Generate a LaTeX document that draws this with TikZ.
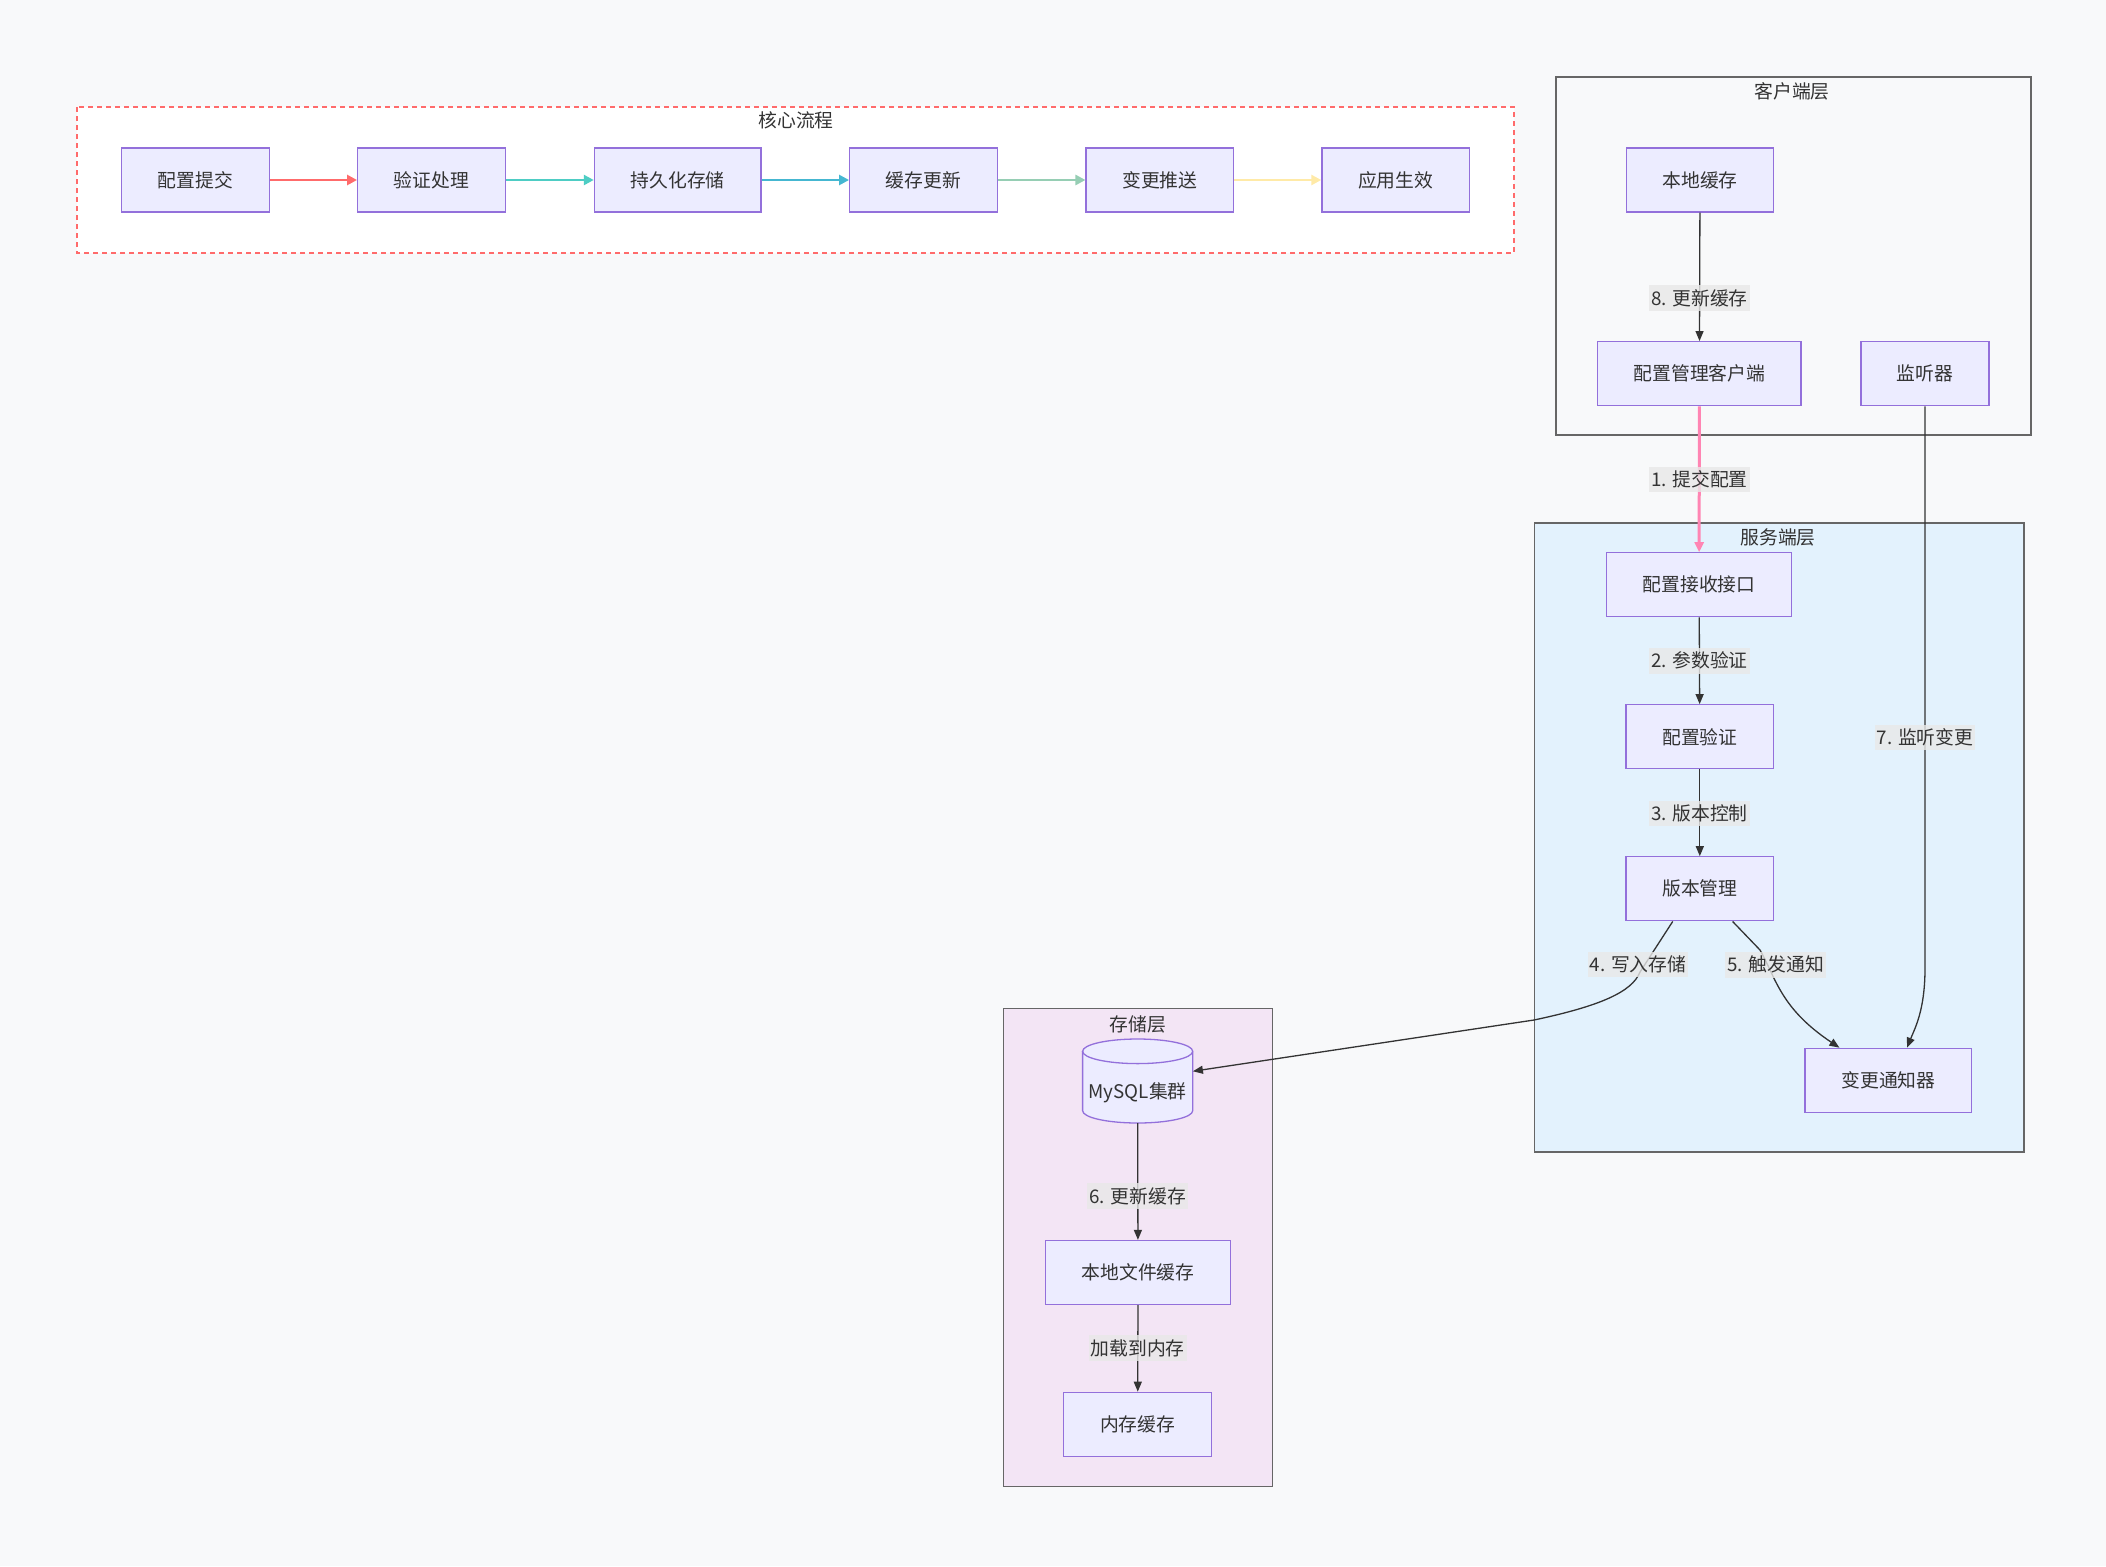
\documentclass[tikz,border=0pt]{standalone}
\usepackage{fontspec}
\setmainfont{Noto Sans CJK SC}
\usetikzlibrary{arrows.meta,calc}
\definecolor{bgc}{HTML}{F8F9FA}
\definecolor{nfill}{HTML}{ECECFF}
\definecolor{nline}{HTML}{9370DB}
\definecolor{txt}{HTML}{333333}
\definecolor{grp}{HTML}{666666}
\definecolor{srvfill}{HTML}{E3F2FD}
\definecolor{stofill}{HTML}{F3E5F5}
\definecolor{coreline}{HTML}{FF6B6B}
\definecolor{lblbg}{HTML}{E8E8E8}
\definecolor{cA}{HTML}{FF6B6B}
\definecolor{cB}{HTML}{4ECDC4}
\definecolor{cC}{HTML}{45B7D1}
\definecolor{cD}{HTML}{96CEB4}
\definecolor{cE}{HTML}{FFEAA7}
\definecolor{pinkc}{HTML}{FF85B3}
\definecolor{edgec}{HTML}{333333}
\tikzset{
  nbox/.style={draw=nline, fill=nfill, line width=1.3pt, minimum height=64pt, inner sep=0pt, text=txt, font=\fontsize{18.8}{22}\selectfont},
  grpbox/.style={draw=grp, line width=1.4pt},
  grptitle/.style={text=txt, font=\fontsize{18.8}{22}\selectfont, inner sep=0pt},
  elabel/.style={fill=lblbg, fill opacity=0.8, text opacity=1, text=txt, font=\fontsize{18.8}{22}\selectfont, inner xsep=2pt, inner ysep=4pt},
  bedge/.style={draw=edgec, line width=1.3pt, -{Triangle[length=10pt,width=8pt]}},
  cedge/.style={line width=2.5pt, -{Triangle[length=10pt,width=10pt]}},
}
\begin{document}
\begin{tikzpicture}[x=1pt,y=-1pt]
\fill[bgc] (0,0) rectangle (2106,1566);
\useasboundingbox (0,0) rectangle (2106,1566);

% groups
\draw[fill=white, draw=coreline, line width=2pt, dash pattern=on 5pt off 4pt] (77,107) rectangle (1514,253);
\node[grptitle] (tcore) at (796,120.7) {核心流程};
\draw[grpbox, fill=bgc] (1556,77) rectangle (2031,435);
\node[grptitle] (tcli) at (1792,91.7) {客户端层};
\draw[grpbox, fill=srvfill] (1534.5,523) rectangle (2024,1152);
\node[grptitle] (tsrv) at (1778,537.5) {服务端层};
\draw[grpbox, fill=stofill] (1003.5,1008.7) rectangle (1272.4,1486.5);
\node[grptitle] (tsto) at (1138,1024) {存储层};

% core flow nodes
\node[nbox, minimum width=147.6pt] (a1) at (195.5,180) {配置提交};
\node[nbox, minimum width=147.6pt] (a2) at (431.5,180) {验证处理};
\node[nbox, minimum width=166.6pt] (a3) at (677.7,180) {持久化存储};
\node[nbox, minimum width=147.6pt] (a4) at (923.5,180) {缓存更新};
\node[nbox, minimum width=147.6pt] (a5) at (1159.9,180) {变更推送};
\node[nbox, minimum width=147.6pt] (a6) at (1395.7,180) {应用生效};

\draw[cedge, draw=cA, fill=cA] (a1) -- (a2);
\draw[cedge, draw=cB, fill=cB] (a2) -- (a3);
\draw[cedge, draw=cC, fill=cC] (a3) -- (a4);
\draw[cedge, draw=cD, fill=cD] (a4) -- (a5);
\draw[cedge, draw=cE, fill=cE] (a5) -- (a6);

% client layer
\node[nbox, minimum width=147.6pt] (lc) at (1700,180) {本地缓存};
\node[nbox, minimum width=203.3pt] (cl) at (1699.4,373.7) {配置管理客户端};
\node[nbox, minimum width=128pt] (li) at (1925,373.7) {监听器};

% server layer
\node[nbox, minimum width=185.4pt] (rc) at (1699.1,584.8) {配置接收接口};
\node[nbox, minimum width=147.6pt] (cv) at (1699.8,736.8) {配置验证};
\node[nbox, minimum width=147.6pt] (vm) at (1699.8,888.8) {版本管理};
\node[nbox, minimum width=166.7pt] (cn) at (1888.4,1080.3) {变更通知器};

% storage layer: cylinder
\path[fill=nfill, draw=nline, line width=1.3pt] (1082.6,1051.3) -- (1082.6,1110.7)
  arc[start angle=180, end angle=360, x radius=55.05pt, y radius=12.3pt] -- (1192.7,1051.3)
  arc[start angle=0, end angle=180, x radius=55.05pt, y radius=12.3pt] -- cycle;
\draw[draw=nline, line width=1.3pt] (1082.6,1051.3) arc[start angle=180, end angle=360, x radius=55.05pt, y radius=12.3pt];
\node[minimum width=110.1pt, minimum height=84pt, inner sep=0pt] (my) at (1137.65,1081) {};
\node[text=txt, font=\fontsize{18.8}{22}\selectfont, inner sep=0pt] (mylbl) at (1137.65,1092.4) {MySQL集群};
\node[nbox, minimum width=185.1pt] (fc) at (1138,1272.5) {本地文件缓存};
\node[nbox, minimum width=148pt] (mc) at (1137.7,1424.3) {内存缓存};

% edges
\draw[bedge] (lc) -- (cl);
\draw[line width=3pt, draw=pinkc, -{Triangle[length=10pt,width=9pt]}, fill=pinkc] (cl) -- (rc);
\draw[bedge] (rc) -- (cv);
\draw[bedge] (cv) -- (vm);
\draw[bedge] ($(vm.south)+(-27.1,0)$) -- (1640,972) .. controls (1632,992) and (1600,1006) .. (1534,1020) -- (my.10);
\draw[bedge] ($(vm.south)+(32.8,0)$) -- (1760,950) .. controls (1776,978) and (1780,1008) .. ($(cn.north west)+(35,0)$);
\draw[bedge] (li.south) -- (1925,968) .. controls (1925,1010) and (1915,1028) .. ($(cn.north)+(18.6,0)$);
\draw[bedge] (my.south) -- (fc);
\draw[bedge] (fc) -- (mc);

% edge labels
\node[elabel] (l8) at (1699.5,298) {8. 更新缓存};
\node[elabel] (l1) at (1699.5,479.5) {1. 提交配置};
\node[elabel] (l2) at (1699.5,660.8) {2. 参数验证};
\node[elabel] (l3) at (1699.5,813.3) {3. 版本控制};
\node[elabel] (l4) at (1638,964.8) {4. 写入存储};
\node[elabel] (l5) at (1775.7,964.8) {5. 触发通知};
\node[elabel] (l7) at (1925,737.3) {7. 监听变更};
\node[elabel] (l6) at (1137.7,1196) {6. 更新缓存};
\node[elabel] (l9) at (1137.7,1348) {加载到内存};
\end{tikzpicture}
\end{document}
